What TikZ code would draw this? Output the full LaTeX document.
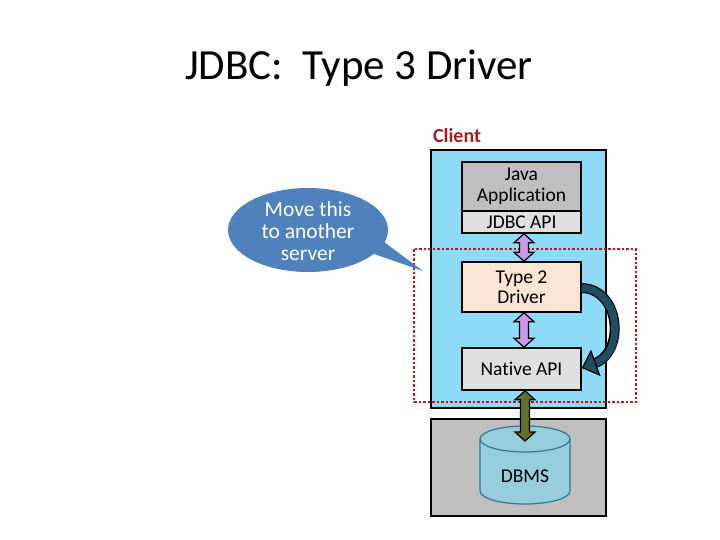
\documentclass[tikz,border=0pt]{standalone}
\usepackage{fontspec}
\setmainfont{Carlito}[Ligatures=NoCommon]
\usetikzlibrary{calc,arrows.meta}
\definecolor{clientblue}{RGB}{142,219,247}
\definecolor{boxgray}{RGB}{191,191,191}
\definecolor{lightgray}{RGB}{224,224,224}
\definecolor{peach}{RGB}{252,229,213}
\definecolor{darkred}{RGB}{165,30,35}
\definecolor{dotred}{RGB}{200,20,20}
\definecolor{arrowpurple}{RGB}{204,153,230}
\definecolor{olive}{RGB}{94,112,42}
\definecolor{teal}{RGB}{31,78,95}
\definecolor{cylfill}{RGB}{150,206,222}
\definecolor{cyledge}{RGB}{49,120,145}
\definecolor{callout}{RGB}{79,129,189}
\newcommand{\blockdarrow}[3]{%
  \draw[#3] (#1) -- ($(#1)+(10,9)$) -- ($(#1)+(4.5,9)$) -- ($(#2)+(4.5,-9)$) -- ($(#2)+(10,-9)$) -- (#2)
   -- ($(#2)+(-10,-9)$) -- ($(#2)+(-4.5,-9)$) -- ($(#1)+(-4.5,9)$) -- ($(#1)+(-10,9)$) -- cycle;}
\tikzset{
  frame/.style={draw=black, line width=1.5pt},
  inbox/.style={draw=black, line width=1.5pt, minimum width=119pt, align=center,
    font=\fontsize{19.5}{20.5}\selectfont, inner sep=0pt},
  purplearrow/.style={fill=arrowpurple, draw=black, line width=1.2pt, line join=miter},
  greenarrow/.style={fill=olive, draw=black, line width=1.2pt, line join=miter},
}
\begin{document}
\begin{tikzpicture}[x=1pt,y=-1pt]
\useasboundingbox (0,0) rectangle (720,540);
% title
\node[font=\fontsize{43}{48}\selectfont] (title) at (359,68) {JDBC:\ \ Type 3 Driver};
% client label
\node[font=\fontsize{20}{22}\selectfont\bfseries, text=darkred] (clientlbl) at (457,136) {Client};
% client box
\node[frame, fill=clientblue, minimum width=175pt, minimum height=258pt, inner sep=0pt] (client) at (518.5,279) {};
% DBMS box
\node[frame, fill=boxgray, minimum width=175pt, minimum height=97pt, inner sep=0pt] (server) at (518.5,467.5) {};
% inner boxes
\node[inbox, fill=boxgray, minimum height=49pt] (java) at (521.5,186.5) {Java\\Application};
\node[inbox, fill=lightgray, minimum height=22pt] (jdbc) at (521.5,222) {JDBC API};
\node[inbox, fill=peach, minimum height=50pt] (t2) at (521.5,287) {Type 2\\Driver};
\node[inbox, fill=lightgray, minimum height=42pt] (native) at (521.5,369) {Native API};
% red dotted rectangle
\draw[dotred, line width=2.5pt, dash pattern=on 2.5pt off 2pt] (414,249) rectangle (636,402);
% cylinder
\fill[cylfill] (480,439) -- (480,491) arc(180:0:45 and 13) -- (570,439) arc(0:-180:45 and 13) -- cycle;
\draw[cyledge, line width=1.2pt] (480,439) -- (480,491) arc(180:0:45 and 13) -- (570,439);
\draw[cyledge, line width=1.2pt] (525,439) ellipse (45 and 13);
\node[font=\fontsize{19.5}{22}\selectfont] (dbms) at (525,476) {DBMS};
\coordinate (dbtop) at (525,441);
\coordinate (ax) at (524,0);
\coordinate (a1t) at (jdbc.south -| ax);
\coordinate (a1b) at (t2.north -| ax);
\coordinate (a2t) at (t2.south -| ax);
\coordinate (a2b) at (native.north -| ax);
\coordinate (gt) at (native.south -| dbtop);
% arrows
\blockdarrow{a1t}{a1b}{purplearrow}
\blockdarrow{a2t}{a2b}{purplearrow}
\blockdarrow{gt}{dbtop}{greenarrow}
% curved arrow
\coordinate (cstart) at ($(t2.east)+(0,1)$);
\coordinate (cend) at ($(native.east)+(0,-1)$);
\draw[black, line width=10pt, shorten >=13pt] (cstart) .. controls (620,289) and (626,352) .. (cend);
\draw[teal, line width=7.5pt, -{Triangle[length=15pt,width=28pt,fill=teal,color=black,line width=1.2pt]}]
  (cstart) .. controls (620,289) and (626,352) .. (cend);
% callout
\fill[callout] (308,230) ellipse (80 and 42);
\fill[callout] (374,254) -- (423,271) -- (384,242) -- cycle;
\node[text=white, align=center, font=\fontsize{21.5}{22}\selectfont] (note) at (308,231) {Move this\\to another\\server};
\end{tikzpicture}
\end{document}
